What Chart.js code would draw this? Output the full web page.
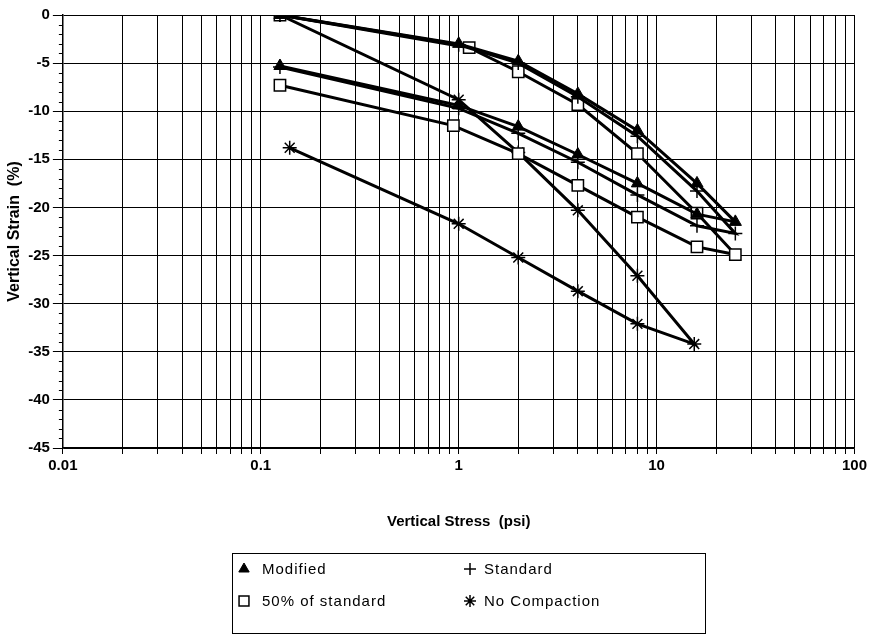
<!DOCTYPE html>
<html>
<head>
<meta charset="utf-8">
<script src="https://cdn.jsdelivr.net/npm/chart.js@4.4.0/dist/chart.umd.min.js"></script>
<style>
  body { margin: 0; background: #fff; }
  #wrap { position: relative; width: 870px; height: 641px; }
</style>
</head>
<body>
<div id="wrap"><canvas id="chart"></canvas></div>
<script>
// Vertical stress (psi) and vertical strain (%)
const stressA = [0.125, 1, 2, 4, 8, 16, 25, 16, 8, 4, 2, 1, 0.125];
const modifiedStrain = [0, -3.0, -4.8, -8.2, -12.0, -17.5, -21.5, -20.7, -17.5, -14.5, -11.6, -9.4, -5.3];
const standardStrain = [0, -3.1, -5.0, -8.5, -12.6, -18.3, -22.7, -21.9, -18.7, -15.3, -12.3, -9.7, -5.4];

const stressHalf = [0.125, 1.13, 2, 4, 8, 16, 25, 16, 8, 4, 2, 0.94, 0.125];
const halfStrain = [0, -3.4, -5.9, -9.3, -14.4, -20.6, -24.9, -24.1, -21.0, -17.7, -14.4, -11.5, -7.3];

const stressNone = [0.125, 1, 2, 4, 8, 15.5, 8, 4, 2, 1, 0.14];
const noneStrain = [0, -8.8, -14.3, -20.3, -27.1, -34.2, -32.1, -28.7, -25.2, -21.7, -13.8];

const decades = [0.01, 0.1, 1, 10];
const xTickValues = decades.flatMap(d => [1, 2, 3, 4, 5, 6, 7, 8, 9].map(k => +(d * k).toPrecision(3))).concat([100]);
const xTickLabels = ['0.01', '0.1', '1', '10', '100'];

function pts(xs, ys) {
  return xs.map((x, i) => ({ x: x, y: ys[i] }));
}

const FONT = '"Liberation Sans", Arial, sans-serif';

// minor y ticks + boxed legend
const extras = {
  id: 'extras',
  afterDraw(chart) {
    const ctx = chart.ctx;
    const y = chart.scales.y;
    ctx.save();
    ctx.strokeStyle = '#000';
    ctx.lineWidth = 1;
    for (let v = -45; v <= 0; v++) {
      if (v % 5 === 0) continue;
      const py = Math.round(y.getPixelForValue(v)) + 0.5;
      ctx.beginPath();
      ctx.moveTo(y.right - 4, py);
      ctx.lineTo(y.right, py);
      ctx.stroke();
    }

    ctx.strokeRect(232.5, 553.5, 473, 80);
    const cols = [244, 470];
    const textCols = [262, 484];
    const rows = [569, 601];
    chart.data.datasets.forEach((ds, i) => {
      const lx = cols[i % 2];
      const ly = rows[Math.floor(i / 2)];
      ctx.fillStyle = ds.pointBackgroundColor;
      ctx.strokeStyle = '#000';
      ctx.lineWidth = ds.pointBorderWidth;
      Chart.helpers.drawPoint(ctx, { pointStyle: ds.pointStyle, radius: ds.pointRadius - 1, rotation: 0, borderWidth: ds.pointBorderWidth }, lx, ly);
      ctx.fillStyle = '#000';
      ctx.font = '15px ' + FONT;
      ctx.letterSpacing = '1px';
      ctx.textBaseline = 'middle';
      ctx.fillText(ds.label, textCols[i % 2], ly + 1);
    });
    ctx.restore();
  }
};

const common = {
  showLine: true,
  borderColor: '#000',
  borderWidth: 3,
  pointBorderColor: '#000',
  fill: false,
  tension: 0
};

new Chart(document.getElementById('chart'), {
  type: 'scatter',
  data: {
    datasets: [
      Object.assign({}, common, { label: 'Modified', data: pts(stressA, modifiedStrain), pointStyle: 'triangle', pointRadius: 7, pointBackgroundColor: '#000', pointBorderWidth: 1 }),
      Object.assign({}, common, { label: 'Standard', data: pts(stressA, standardStrain), pointStyle: 'cross', pointRadius: 7, pointBackgroundColor: '#000', pointBorderWidth: 1.5 }),
      Object.assign({}, common, { label: '50% of standard', data: pts(stressHalf, halfStrain), pointStyle: 'rect', pointRadius: 8, pointBackgroundColor: '#fff', pointBorderWidth: 1.5 }),
      Object.assign({}, common, { label: 'No Compaction', data: pts(stressNone, noneStrain), pointStyle: 'star', pointRadius: 7, pointBackgroundColor: '#000', pointBorderWidth: 1.5 })
    ]
  },
  options: {
    responsive: true,
    maintainAspectRatio: false,
    animation: false,
    layout: { padding: { left: 5, right: 5, top: 15, bottom: 106 } },
    plugins: {
      legend: { display: false },
      tooltip: { enabled: false }
    },
    scales: {
      x: {
        type: 'logarithmic',
        min: 0.01,
        max: 100,
        afterBuildTicks: (axis) => { axis.ticks = xTickValues.map(v => ({ value: v })); },
        border: { color: '#000', width: 1.5 },
        grid: { color: '#000', lineWidth: 1, tickLength: 6, tickColor: '#000' },
        ticks: {
          autoSkip: false,
          maxRotation: 0,
          color: '#000',
          font: { family: FONT, size: 15, weight: 'bold' },
          padding: 3,
          callback: (v) => xTickLabels.includes(String(v)) ? String(v) : ''
        },
        title: { display: true, text: 'Vertical Stress  (psi)', color: '#000', font: { family: FONT, size: 15, weight: 'bold' }, padding: { top: 35 } }
      },
      y: {
        min: -45,
        max: 0,
        border: { color: '#000', width: 1.5 },
        grid: { color: '#000', lineWidth: 1, tickLength: 10, tickColor: '#000' },
        ticks: {
          stepSize: 5,
          color: '#000',
          font: { family: FONT, size: 15, weight: 'bold' },
          padding: 3
        },
        title: { display: true, text: 'Vertical Strain  (%)', color: '#000', font: { family: FONT, size: 16, weight: 'bold' }, padding: { top: 0, bottom: 1 } }
      }
    }
  },
  plugins: [extras]
});
</script>
</body>
</html>
